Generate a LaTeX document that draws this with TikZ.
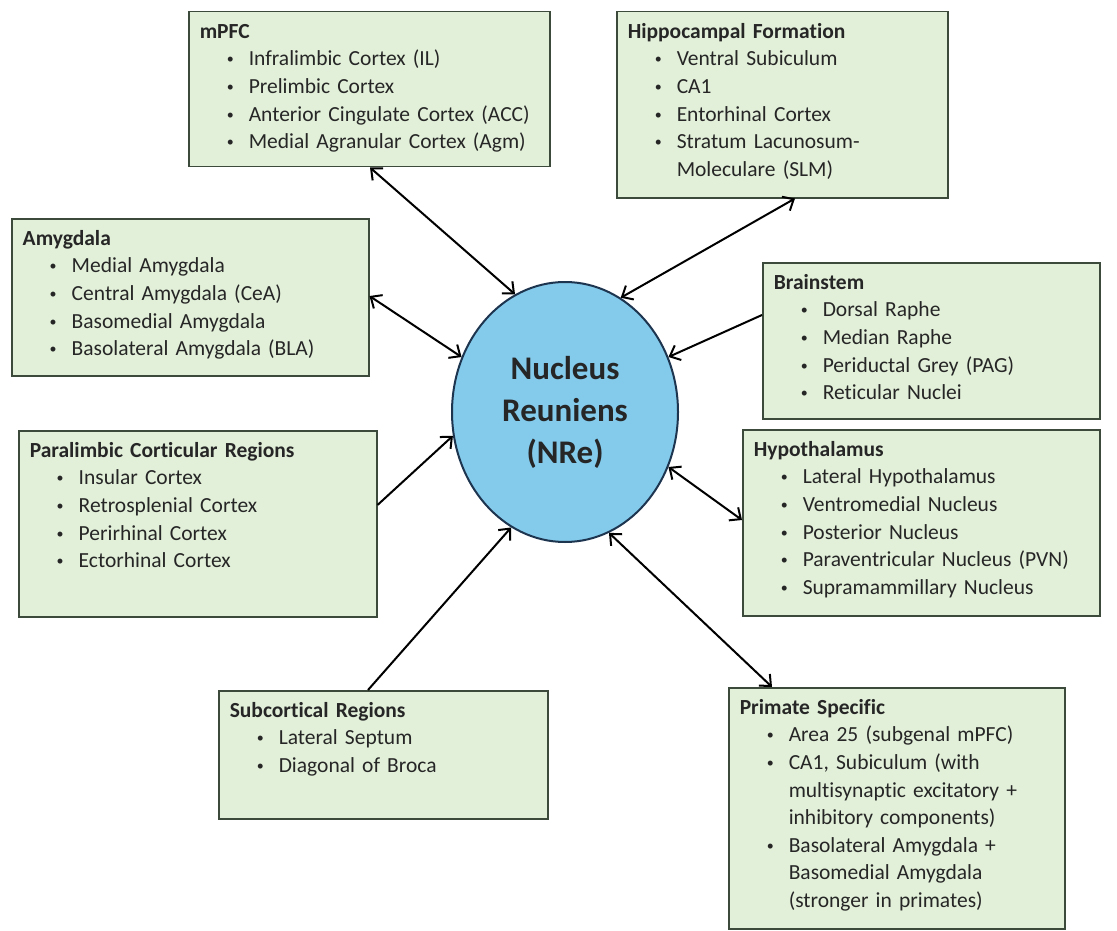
\documentclass[tikz,border=0pt]{standalone}
\usepackage{fontspec}
\setmainfont{Carlito}[Ligatures=NoCommon]
\usetikzlibrary{arrows.meta,shapes.geometric,calc}

\definecolor{boxfill}{HTML}{E2F0D9}
\definecolor{boxline}{HTML}{3B4A3B}
\definecolor{nrefill}{HTML}{83CAEB}
\definecolor{nreline}{HTML}{1E3550}

\tikzset{
  region/.style={draw=boxline, line width=1.5pt, fill=boxfill, anchor=north west,
    inner xsep=11pt, inner ysep=0pt, align=left, text height=26.5pt,
    font=\fontsize{21.5}{27.6}\selectfont, text=black!85},
  link/.style={line width=2pt, {Straight Barb[length=9pt,width=16pt]}-{Straight Barb[length=9pt,width=16pt]}},
  oneway/.style={line width=2pt, -{Straight Barb[length=9pt,width=16pt]}}
}
\newcommand{\bul}[1]{\hspace*{27pt}\makebox[22pt][l]{\raisebox{2pt}{\fontsize{14}{14}\selectfont\textbullet}}#1}
\newcommand{\cont}[1]{\hspace*{49pt}#1}

\begin{document}
\begin{tikzpicture}[x=1pt,y=-1pt]
\fill[white] (0,0) rectangle (1117,931);
\useasboundingbox (0,0) rectangle (1117,931);

% Centre
\node[ellipse, draw=nreline, line width=2pt, fill=nrefill, minimum width=226pt,
  minimum height=260pt, inner sep=0pt, align=center,
  font=\fontsize{33}{42}\selectfont\bfseries, text=black!85] (nre) at (565,412)
  {Nucleus\\Reuniens\\(NRe)};

% Regions
\node[region, text width=339pt, text depth=128.5pt] (mpfc) at (188,11)
  {\textbf{mPFC}\\
   \bul{Infralimbic Cortex (IL)}\\
   \bul{Prelimbic Cortex}\\
   \bul{Anterior Cingulate Cortex (ACC)}\\
   \bul{Medial Agranular Cortex (Agm)}};
\node[region, text width=309pt, text depth=159.5pt] (hippo) at (616,11)
  {\textbf{Hippocampal Formation}\\
   \bul{Ventral Subiculum}\\
   \bul{CA1}\\
   \bul{Entorhinal Cortex}\\
   \bul{Stratum Lacunosum-}\\
   \cont{Moleculare (SLM)}};
\node[region, text width=335pt, text depth=130.5pt] (amyg) at (11,218)
  {\textbf{Amygdala}\\
   \bul{Medial Amygdala}\\
   \bul{Central Amygdala (CeA)}\\
   \bul{Basomedial Amygdala}\\
   \bul{Basolateral Amygdala (BLA)}};
\node[region, text width=315pt, text depth=129.5pt] (brain) at (762,262)
  {\textbf{Brainstem}\\
   \bul{Dorsal Raphe}\\
   \bul{Median Raphe}\\
   \bul{Periductal Grey (PAG)}\\
   \bul{Reticular Nuclei}};
\node[region, text width=336pt, text depth=159.5pt] (para) at (18,430)
  {\textbf{Paralimbic Corticular Regions}\\
   \bul{Insular Cortex}\\
   \bul{Retrosplenial Cortex}\\
   \bul{Perirhinal Cortex}\\
   \bul{Ectorhinal Cortex}};
\node[region, text width=335pt, text depth=159.5pt] (hypo) at (742,429)
  {\textbf{Hypothalamus}\\
   \bul{Lateral Hypothalamus}\\
   \bul{Ventromedial Nucleus}\\
   \bul{Posterior Nucleus}\\
   \bul{Paraventricular Nucleus (PVN)}\\
   \bul{Supramammillary Nucleus}};
\node[region, text width=307pt, text depth=101.5pt] (subc) at (218,690)
  {\textbf{Subcortical Regions}\\
   \bul{Lateral Septum}\\
   \bul{Diagonal of Broca}};
\node[region, text width=314pt, text depth=214.5pt] (prim) at (728,687)
  {\textbf{Primate Specific}\\
   \bul{Area 25 (subgenal mPFC)}\\
   \bul{CA1, Subiculum (with}\\
   \cont{multisynaptic excitatory +}\\
   \cont{inhibitory components)}\\
   \bul{Basolateral Amygdala +}\\
   \cont{Basomedial Amygdala}\\
   \cont{(stronger in primates)}};

% Connections
\draw[link] ($(mpfc.south west)+(182,0)$) -- (nre.113.7);
\draw[link] ($(hippo.south west)+(179,0)$) -- (nre.64.6);
\draw[link] ($(amyg.north east)+(0,78)$) -- (nre.152.6);
\draw[oneway] ($(brain.north west)+(0,53)$) -- (nre.28.1);
\draw[oneway] ($(para.north east)+(0,75)$) -- (nre.192.3);
\draw[link] ($(hypo.north west)+(0,91)$) -- (nre.332.6);
\draw[oneway] ($(subc.north west)+(150,0)$) -- (nre.245.3);
\draw[link] ($(prim.north west)+(44,0)$) -- (nre.290.3);
\end{tikzpicture}
\end{document}
